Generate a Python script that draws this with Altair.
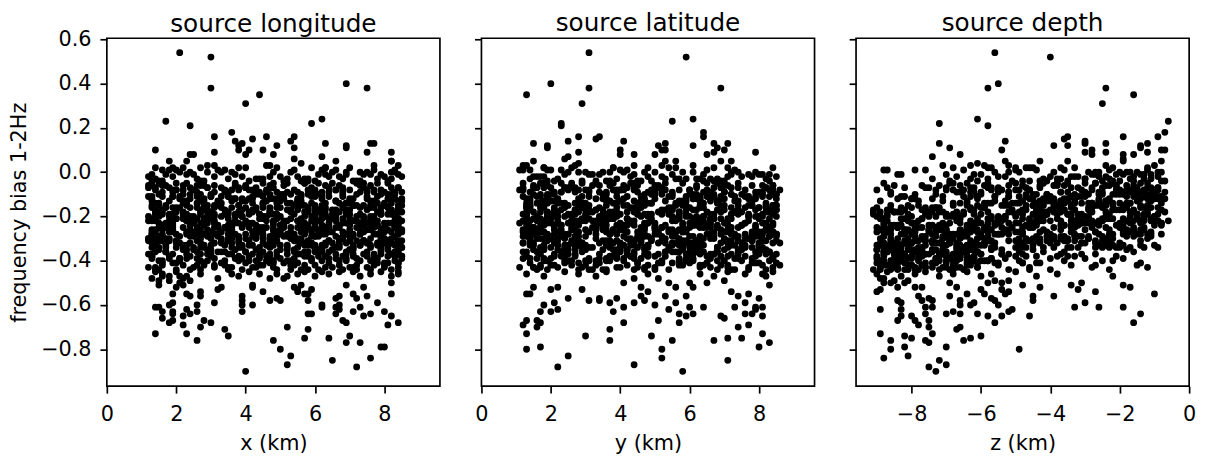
import altair as alt
import pandas as pd

FONT = "DejaVu Sans"
panel_titles = ["source longitude", "source latitude", "source depth"]
x_titles = ["x (km)", "y (km)", "z (km)"]
y_title = "frequency bias 1-2Hz"
y_ticks = [-0.8, -0.6, -0.4, -0.2, 0.0, 0.2, 0.4, 0.6]
h_ticks = [0, 2, 4, 6, 8]
z_ticks = [-8, -6, -4, -2, 0]

# events seen in all three panels: (bias in 1/100, x, y, z in 1/10 km)
core_events = [
(54,21,31,-56),(52,30,59,-40),(40,69,20,-55),(38,30,31,-58),(38,75,69,-24),(35,44,13,-16),(31,40,29,-25),(24,62,61,-61),(23,17,55,-6),(22,59,23,-72),
(21,24,23,-58),(18,36,64,-7),(16,46,34,-9),(16,54,64,-19),(16,31,28,-35),(15,42,33,-36),(14,53,25,-53),(14,37,41,-30),(13,39,67,-24),(13,63,15,-12),
(13,76,53,-72),(13,77,71,-30),(12,69,61,-35),(12,38,51,-14),(12,49,19,-39),(11,69,68,-69),(11,54,19,-14),(10,14,40,-8),(10,38,70,-7),(10,41,52,-54),
(10,45,53,-28),(9,31,28,-24),(9,75,67,-12),(9,82,79,-30),(8,24,50,-28),(8,25,44,-66),(8,40,65,-16),(8,48,40,-19),(7,62,25,-74),(6,54,24,-19),
(5,66,56,-8),(5,82,15,-53),(5,82,69,-35),(5,23,72,-43),(5,18,53,-19),(4,56,28,-61),(3,31,12,-63),(3,47,44,-52),(3,77,52,-59),(2,63,67,-50),
(2,63,18,-68),(2,19,38,-46),(2,27,48,-37),(1,16,19,-23),(0,73,72,-26),
(-2,47,18,-33),(1,18,73,-12),(-4,73,29,-51),(3,29,61,-24),(-1,61,83,-70),(0,83,35,-9),(-3,35,14,-42),(2,14,56,-58),(-4,56,69,-16),(-1,69,44,-83),
(0,24,50,-27),(-3,52,22,-63),(-1,79,77,-19),(2,40,38,-45),(-4,13,64,-8),(1,66,12,-36),(-2,31,85,-55),(-4,58,46,-22),(3,84,27,-71),(-3,45,59,-30),
(-1,37,31,-14),(-4,71,67,-48),(1,20,42,-87),(-2,55,15,-26),(0,82,79,-39),(-3,26,53,-11),(-1,63,24,-60),(2,49,71,-33),(-4,15,36,-20),(0,75,58,-52),
(-3,43,82,-17),(1,77,20,-44),(-2,12,48,-67),(-4,60,33,-7),(0,33,74,-29),(-1,84,55,-13),(2,22,26,-57),(-3,68,63,-38),(-2,39,17,-24),(1,54,40,-76),
(-4,28,70,-46),(0,65,28,-18),(-2,80,52,-32),(3,46,13,-10),(-1,17,81,-62),(-3,57,39,-23),(1,34,65,-88),(-4,72,21,-41),(0,21,47,-15),(-2,50,75,-53),
(-1,76,32,-28),(-3,14,57,-74),(2,59,84,-12),(-4,41,19,-35),(0,29,61,-49),(-2,67,43,-9),(1,83,14,-65),(-1,25,72,-21),(-4,51,37,-43),(-3,78,66,-30),
(0,36,25,-56),(-2,19,78,-16),(-4,81,49,-25),(1,62,11,-79),(-3,44,68,-37),(-1,13,34,-11),(2,70,54,-47),(-4,27,83,-61),(0,53,41,-20),(-2,85,16,-34),
(-3,58,62,-13),(1,32,23,-50),(-1,74,80,-27),(-4,16,45,-69),(0,48,30,-8),(-2,64,71,-40),(2,38,18,-22),(-3,82,56,-58),(-1,23,64,-84),(0,69,37,-17),
(-9,52,27,-35),(-13,18,66,-71),(-6,76,41,-18),(-11,33,83,-52),(-7,64,15,-9),(-14,45,58,-64),(-5,23,33,-27),(-10,81,72,-44),(-12,39,22,-84),(-8,58,49,-13),
(-12,71,63,-40),(-6,27,19,-23),(-9,49,81,-67),(-14,14,38,-31),(-10,62,55,-11),(-5,37,26,-58),(-13,84,73,-78),(-8,20,44,-46),(-11,56,12,-16),(-7,43,67,-62),
(-10,30,52,-29),(-14,67,29,-8),(-8,46,76,-54),(-5,78,17,-88),(-12,21,61,-36),(-9,59,36,-19),(-6,13,84,-72),(-13,50,47,-41),(-7,82,24,-25),(-11,35,69,-61),
(-7,74,42,-12),(-11,16,59,-49),(-14,53,13,-33),(-6,40,78,-66),(-9,85,31,-21),(-12,28,50,-80),(-5,61,65,-38),(-10,47,20,-15),(-8,19,86,-57),(-13,70,37,-26),
(-13,36,74,-48),(-8,79,25,-10),(-5,15,53,-69),(-11,60,39,-32),(-14,42,82,-17),(-7,24,16,-55),(-10,68,61,-86),(-6,51,45,-24),(-12,83,28,-42),(-9,31,70,-7),
(-6,63,34,-59),(-10,22,75,-20),(-13,77,18,-37),(-8,41,57,-73),(-5,57,43,-14),(-11,13,66,-47),(-14,69,24,-28),(-9,35,80,-63),(-7,84,51,-34),(-12,48,14,-11),
(-11,26,46,-82),(-5,72,68,-30),(-9,44,21,-16),(-14,80,57,-51),(-6,17,32,-39),(-12,55,85,-9),(-8,66,40,-68),(-13,32,63,-23),(-10,50,17,-45),(-7,14,74,-76),
(-14,59,22,-18),(-9,16,48,-60),(-6,47,71,-43),(-12,75,35,-26),(-7,29,12,-87),(-10,83,62,-12),(-13,40,78,-53),(-5,65,29,-35),(-11,21,54,-65),(-8,54,84,-20),
(-8,38,60,-31),(-12,81,13,-74),(-5,20,38,-22),(-10,58,72,-10),(-14,32,27,-57),(-6,73,50,-48),(-11,45,19,-83),(-7,12,82,-15),(-13,66,44,-39),(-9,26,64,-62),
(-5,45,33,-50),(-9,68,79,-17),(-14,23,56,-29),(-7,84,20,-70),(-12,51,41,-8),(-10,15,67,-41),(-6,37,15,-77),(-13,76,53,-24),(-8,60,28,-55),(-11,30,81,-34),
(-10,79,47,-19),(-7,40,25,-63),(-12,13,70,-46),(-5,57,58,-12),(-13,27,36,-89),(-8,70,83,-28),(-14,49,16,-37),(-6,22,62,-52),(-11,64,42,-71),(-9,35,23,-14),
(-13,55,68,-43),(-6,31,37,-21),(-9,75,14,-66),(-11,19,79,-9),(-7,47,52,-32),(-14,82,30,-59),(-8,25,65,-15),(-12,62,19,-80),(-5,16,44,-38),(-10,72,85,-25),
(-7,18,26,-58),(-11,50,63,-13),(-14,70,45,-44),(-8,34,11,-70),(-5,81,74,-27),(-12,42,33,-61),(-9,64,55,-19),(-6,28,81,-85),(-13,13,20,-33),(-10,56,49,-47),
(-12,36,77,-10),(-8,77,39,-49),(-5,52,18,-64),(-13,22,59,-24),(-10,43,84,-73),(-6,67,26,-36),(-14,15,46,-17),(-9,80,66,-55),(-11,59,31,-40),(-7,29,72,-82),
(-9,83,52,-26),(-13,46,14,-56),(-6,12,70,-38),(-10,61,35,-79),(-7,38,82,-11),(-12,24,47,-45),(-5,74,23,-68),(-14,56,64,-22),(-8,42,40,-90),(-11,78,17,-31),
(-6,26,84,-16),(-10,53,21,-60),(-13,85,57,-35),(-7,33,44,-75),(-11,68,76,-18),(-5,48,12,-42),(-9,19,39,-86),(-14,63,68,-28),(-8,75,30,-50),(-12,41,61,-7),
(-19,44,72,-81),(-15,71,28,-37),(-23,17,50,-14),(-17,58,85,-62),(-21,30,15,-48),(-24,83,41,-26),(-16,49,63,-90),(-20,25,34,-55),(-22,66,77,-9),(-18,38,22,-71),
(-22,76,55,-33),(-18,14,31,-67),(-15,54,69,-19),(-24,36,18,-84),(-20,62,80,-42),(-16,21,46,-11),(-23,80,26,-58),(-17,43,61,-76),(-21,28,38,-24),(-19,69,13,-50),
(-16,33,44,-73),(-21,84,67,-29),(-24,19,23,-46),(-18,60,52,-7),(-15,45,82,-64),(-22,12,36,-88),(-19,73,19,-35),(-17,27,74,-20),(-23,51,48,-79),(-20,39,60,-53),
(-20,57,16,-15),(-17,82,59,-82),(-22,40,33,-40),(-15,23,78,-68),(-19,65,45,-23),(-23,31,64,-56),(-16,77,29,-12),(-24,48,84,-74),(-18,16,52,-44),(-21,70,20,-89),
(-23,64,76,-31),(-19,22,40,-60),(-16,79,14,-18),(-21,45,57,-77),(-18,35,83,-49),(-15,13,25,-86),(-24,56,66,-21),(-20,83,37,-70),(-17,29,55,-8),(-22,52,12,-43),
(-18,78,42,-65),(-22,37,71,-25),(-15,60,18,-52),(-20,15,62,-80),(-24,70,28,-37),(-16,43,80,-14),(-21,26,49,-61),(-17,55,23,-91),(-23,81,58,-30),(-19,34,35,-45),
(-15,28,58,-39),(-24,62,13,-72),(-17,47,85,-16),(-21,74,31,-54),(-19,19,47,-87),(-23,40,70,-27),(-16,84,39,-63),(-20,33,19,-10),(-18,67,65,-41),(-22,14,27,-78),
(-21,53,67,-58),(-16,17,24,-34),(-19,81,54,-13),(-23,29,81,-69),(-15,68,36,-22),(-18,42,15,-83),(-24,24,75,-47),(-22,59,43,-6),(-17,75,62,-36),(-20,46,30,-66),
(-24,35,50,-20),(-20,72,79,-75),(-17,20,33,-43),(-22,48,61,-28),(-16,63,17,-59),(-19,14,84,-35),(-15,80,46,-81),(-23,57,22,-17),(-18,27,69,-52),(-21,84,38,-11),
(-17,66,21,-86),(-21,13,63,-32),(-24,51,39,-64),(-18,82,73,-24),(-15,38,56,-45),(-23,73,11,-8),(-20,22,48,-73),(-16,58,82,-38),(-22,31,26,-55),(-19,47,67,-15),
(-20,18,77,-50),(-16,50,34,-19),(-23,69,60,-88),(-19,37,20,-41),(-15,84,70,-26),(-22,25,44,-67),(-18,61,13,-12),(-24,43,53,-79),(-17,14,83,-33),(-21,76,29,-57),
(-23,42,19,-29),(-19,79,48,-62),(-16,26,72,-9),(-21,64,37,-46),(-24,16,65,-83),(-17,53,27,-21),(-20,37,85,-68),(-15,71,41,-38),(-22,85,16,-14),(-18,30,57,-74),
(-18,57,38,-91),(-24,28,68,-36),(-15,74,24,-54),(-20,45,55,-17),(-22,19,14,-63),(-16,68,80,-28),(-23,36,43,-8),(-17,82,30,-47),(-21,49,71,-77),(-19,23,59,-31),
(-16,81,64,-43),(-22,46,22,-14),(-18,20,51,-85),(-15,55,78,-24),(-24,73,33,-56),(-19,31,12,-70),(-21,62,66,-19),(-17,39,45,-39),(-23,15,82,-61),(-20,77,26,-10),
(-21,24,35,-66),(-17,70,70,-22),(-23,48,17,-49),(-16,13,55,-80),(-20,59,81,-13),(-24,84,42,-34),(-18,41,28,-58),(-22,66,64,-87),(-15,32,14,-27),(-19,54,49,-44),
(-15,62,84,-18),(-20,29,46,-57),(-24,78,21,-75),(-17,16,68,-40),(-22,51,32,-11),(-19,83,57,-65),(-16,36,13,-29),(-23,60,76,-50),(-18,22,39,-89),(-21,44,62,-22),
(-22,71,49,-37),(-18,47,75,-16),(-16,19,29,-60),(-24,58,58,-44),(-21,35,17,-82),(-15,80,63,-25),(-19,63,36,-9),(-23,27,84,-71),(-20,12,24,-53),(-17,52,44,-33),
(-19,38,66,-76),(-23,82,27,-20),(-17,61,52,-48),(-21,20,80,-13),(-16,45,18,-59),(-24,67,47,-36),(-18,29,73,-85),(-22,55,34,-25),(-20,76,59,-69),(-15,15,42,-42),
(-24,50,23,-10),(-16,73,60,-72),(-20,31,37,-30),(-18,85,82,-51),(-23,18,48,-66),(-17,42,14,-19),(-21,68,69,-88),(-15,57,31,-34),(-22,23,56,-46),(-19,79,77,-15),
(-17,34,53,-63),(-21,56,16,-23),(-15,17,74,-45),(-23,75,40,-80),(-19,48,25,-12),(-22,83,63,-54),(-16,24,43,-38),(-24,41,79,-70),(-18,69,19,-28),(-20,60,57,-90),
(-29,61,45,-68),(-25,26,79,-33),(-33,78,22,-85),(-27,43,58,-17),(-31,15,36,-74),(-34,55,71,-47),(-26,84,16,-62),(-30,35,63,-24),(-32,69,29,-80),(-28,20,50,-40),
(-32,48,84,-56),(-28,73,33,-12),(-25,17,60,-77),(-31,58,19,-36),(-26,36,46,-89),(-34,81,68,-21),(-29,24,27,-64),(-27,65,81,-43),(-33,42,41,-70),(-30,13,14,-29),
(-26,70,57,-82),(-31,33,21,-50),(-34,14,75,-65),(-28,52,39,-8),(-25,83,64,-73),(-32,27,12,-38),(-29,47,83,-60),(-33,62,48,-26),(-27,19,31,-87),(-30,76,66,-45),
(-30,40,24,-71),(-27,57,70,-19),(-32,82,44,-59),(-25,31,15,-84),(-29,68,55,-31),(-33,22,80,-67),(-26,50,35,-13),(-34,71,61,-78),(-28,13,23,-52),(-31,85,74,-35),
(-33,59,30,-61),(-29,16,67,-88),(-26,45,13,-42),(-31,74,52,-23),(-28,28,85,-69),(-25,64,40,-16),(-34,38,18,-83),(-30,80,77,-49),(-27,53,28,-63),(-32,21,56,-30),
(-28,35,72,-15),(-32,75,38,-72),(-25,51,65,-54),(-30,18,20,-86),(-34,66,47,-34),(-26,29,82,-66),(-31,84,26,-41),(-27,44,59,-79),(-33,14,43,-20),(-29,60,14,-58),
(-25,72,33,-90),(-34,25,54,-27),(-27,61,17,-75),(-31,41,78,-46),(-29,83,61,-11),(-33,50,25,-64),(-26,16,69,-37),(-30,67,42,-81),(-28,37,84,-55),(-32,56,12,-69),
(-31,20,63,-44),(-26,79,21,-61),(-29,32,48,-25),(-33,67,76,-86),(-25,46,35,-39),(-28,84,15,-74),(-34,52,68,-17),(-32,13,29,-62),(-27,74,83,-48),(-30,27,53,-77),
(-34,44,37,-67),(-30,82,64,-22),(-27,23,13,-53),(-32,63,51,-85),(-26,36,82,-30),(-29,71,28,-70),(-25,15,74,-45),(-33,58,44,-10),(-28,48,19,-82),(-31,79,59,-57),
(-27,85,46,-34),(-31,49,22,-76),(-34,28,60,-63),(-28,63,79,-26),(-25,39,17,-84),(-33,76,55,-49),(-30,12,33,-68),(-26,57,71,-19),(-32,24,40,-59),(-29,70,12,-88),
(-30,55,81,-40),(-26,19,30,-73),(-33,81,57,-24),(-29,42,14,-65),(-25,66,66,-51),(-32,31,46,-89),(-28,77,23,-14),(-34,13,78,-56),(-27,50,38,-80),(-31,35,62,-33),
(-33,73,18,-71),(-29,38,73,-18),(-26,62,41,-87),(-32,17,61,-43),(-28,54,24,-60),(-25,80,50,-28),(-31,26,85,-76),(-34,47,32,-9),(-27,68,67,-66),(-30,14,45,-39),
(-26,43,27,-53),(-32,78,69,-82),(-29,21,52,-36),(-25,58,14,-64),(-33,34,80,-22),(-28,69,37,-74),(-31,12,58,-47),(-27,82,22,-90),(-34,60,63,-32),(-30,30,43,-61),
(-31,64,35,-27),(-27,30,56,-70),(-34,85,20,-50),(-30,47,77,-84),(-26,24,47,-16),(-33,71,62,-59),(-25,41,26,-78),(-29,15,83,-41),(-32,57,15,-67),(-28,78,51,-23),
(-28,16,66,-86),(-33,52,40,-45),(-25,77,83,-62),(-30,33,18,-12),(-27,59,54,-73),(-34,20,29,-35),(-31,72,72,-81),(-26,48,36,-57),(-29,83,13,-29),(-32,38,60,-69),
(-25,34,21,-48),(-29,66,60,-79),(-32,45,86,-20),(-27,13,42,-65),(-34,79,17,-88),(-30,56,70,-37),(-26,27,33,-72),(-33,63,48,-14),(-28,40,81,-55),(-31,74,28,-63),
(-32,82,53,-31),(-28,27,16,-68),(-25,53,72,-84),(-31,18,39,-25),(-27,70,80,-58),(-34,39,24,-77),(-29,60,47,-44),(-33,23,64,-83),(-26,75,12,-18),(-30,45,57,-66),
(-29,29,79,-60),(-34,67,31,-23),(-26,85,59,-75),(-32,36,21,-40),(-25,22,68,-86),(-31,55,44,-52),(-27,80,18,-11),(-30,16,76,-71),(-33,48,36,-89),(-28,62,65,-33),
(-34,17,45,-64),(-27,49,84,-27),(-31,81,27,-79),(-25,60,63,-46),(-30,38,14,-61),(-26,13,50,-82),(-33,73,73,-19),(-28,31,37,-56),(-32,65,55,-73),(-29,43,20,-37),
(-26,59,38,-70),(-30,79,67,-43),(-33,30,15,-62),(-27,18,58,-87),(-34,76,81,-25),(-29,51,30,-66),(-25,36,46,-13),(-32,84,71,-80),(-28,23,25,-48),(-31,67,62,-58),
(-38,57,39,-78),(-42,22,71,-55),(-35,79,18,-86),(-40,41,57,-64),(-44,14,32,-23),(-37,66,80,-71),(-41,33,24,-90),(-36,84,62,-42),(-43,48,45,-67),(-39,26,14,-80),
(-43,70,66,-61),(-36,17,29,-83),(-40,52,83,-36),(-35,30,47,-74),(-42,77,20,-15),(-38,44,60,-88),(-44,61,36,-69),(-37,23,74,-52),(-41,84,51,-76),(-39,38,16,-63),
(-36,45,53,-87),(-41,80,14,-48),(-44,27,68,-72),(-38,63,27,-33),(-35,15,82,-66),(-42,54,42,-81),(-39,72,61,-57),(-43,36,22,-89),(-37,19,48,-27),(-40,67,75,-70),
(-40,29,36,-62),(-37,74,59,-85),(-43,12,17,-46),(-39,50,78,-73),(-35,62,40,-18),(-41,40,65,-82),(-36,83,23,-65),(-44,24,54,-91),(-38,68,84,-38),(-42,34,30,-77),
(-44,56,72,-68),(-39,18,44,-40),(-36,69,12,-79),(-42,28,57,-64),(-37,82,34,-88),(-41,47,79,-55),(-35,37,25,-71),(-43,75,63,-12),(-38,13,38,-84),(-40,59,19,-60),
(-37,42,85,-75),(-43,65,47,-28),(-38,24,21,-82),(-35,81,70,-63),(-40,16,33,-49),(-44,49,16,-86),(-36,58,56,-66),(-42,72,81,-34),(-39,31,41,-78),(-41,84,28,-61),
(-41,20,52,-70),(-35,52,15,-90),(-39,78,73,-53),(-44,39,35,-65),(-37,12,61,-37),(-42,60,26,-80),(-38,85,48,-21),(-36,32,82,-74),(-43,71,39,-84),(-40,46,68,-58),
(-39,66,31,-67),(-44,35,77,-46),(-36,14,44,-83),(-40,83,18,-72),(-42,44,63,-88),(-37,56,42,-31),(-43,25,84,-76),(-35,70,27,-62),(-41,16,55,-14),(-38,49,71,-80),
(-42,80,69,-85),(-38,30,23,-64),(-44,68,50,-78),(-35,43,74,-54),(-39,21,36,-90),(-36,75,16,-70),(-41,55,85,-43),(-37,36,47,-82),(-43,14,29,-66),(-40,62,59,-25),
(-35,25,62,-77),(-40,73,41,-86),(-37,47,17,-60),(-43,84,77,-71),(-38,18,53,-47),(-44,53,31,-81),(-39,64,66,-19),(-42,31,21,-68),(-36,40,83,-88),(-41,78,45,-56),
(-43,35,15,-79),(-36,64,57,-65),(-41,19,80,-84),(-38,77,37,-50),(-35,50,22,-73),(-40,27,70,-89),(-44,82,44,-40),(-37,13,27,-76),(-42,45,64,-63),(-39,69,12,-30),
(-38,83,76,-70),(-42,16,48,-87),(-35,61,30,-45),(-39,39,84,-62),(-44,72,19,-82),(-41,28,60,-74),(-36,54,40,-16),(-43,43,71,-85),(-37,79,25,-67),(-40,21,52,-59),
(-40,48,24,-83),(-37,29,66,-72),(-43,80,50,-61),(-36,17,13,-88),(-41,64,78,-44),(-35,84,35,-81),(-39,44,59,-69),(-42,26,17,-77),(-44,58,82,-52),(-38,71,43,-35),
(-36,33,74,-64),(-44,76,28,-79),(-39,13,46,-57),(-42,57,86,-86),(-37,69,21,-68),(-40,38,61,-22),(-35,22,38,-84),(-43,63,15,-74),(-38,46,69,-90),(-41,81,34,-48),
(-41,51,45,-73),(-38,85,13,-62),(-44,20,73,-84),(-36,40,55,-36),(-42,67,33,-80),(-35,14,80,-67),(-40,76,26,-88),(-37,55,63,-54),(-43,31,40,-70),(-39,59,18,-81),
(-39,23,84,-66),(-42,53,58,-27),(-35,70,42,-85),(-43,42,11,-76),(-37,84,67,-60),(-40,34,30,-83),(-36,60,79,-71),(-44,15,47,-89),(-38,75,24,-44),(-41,48,65,-64),
(-17,63,27,-44),(-8,22,53,-21),(-31,47,78,-69),(-12,85,36,-12),(-26,35,15,-52),(-21,14,66,-83),(-37,71,44,-76),(-10,51,81,-33),(-28,79,21,-19),(-15,29,59,-61),
(-23,41,34,-27),(-33,17,72,-81),(-7,68,18,-47),(-19,82,52,-70),(-29,25,85,-39),(-13,56,40,-15),(-38,38,24,-64),(-24,74,62,-8),(-11,12,29,-56),(-35,60,75,-86),
(-30,53,49,-23),(-16,20,13,-74),(-9,77,70,-37),(-25,44,32,-88),(-40,15,57,-58),(-20,66,80,-29),(-14,33,23,-50),(-27,84,45,-66),(-34,27,68,-13),(-18,58,17,-42),
(-12,37,63,-79),(-22,72,26,-18),(-36,49,83,-71),(-8,14,41,-9),(-27,63,12,-61),(-17,28,55,-36),(-32,80,34,-84),(-20,45,77,-24),(-39,21,20,-69),(-25,55,50,-46),
(-19,18,38,-91),(-29,70,74,-32),(-11,42,16,-63),(-34,85,58,-20),(-23,31,82,-55),(-7,59,27,-43),(-38,13,65,-80),(-15,76,47,-14),(-26,48,14,-75),(-21,24,72,-38),
(-33,39,29,-62),(-10,82,60,-26),(-24,16,44,-85),(-28,57,85,-11),(-14,69,19,-68),(-36,26,53,-49),(-18,47,37,-17),(-31,74,71,-78),(-9,34,23,-52),(-22,61,66,-34),
(-26,73,55,-70),(-13,23,21,-40),(-35,54,81,-57),(-20,39,39,-87),(-30,12,63,-29),(-16,81,30,-12),(-24,50,75,-63),(-8,66,12,-46),(-37,30,48,-83),(-28,45,69,-22),
(-15,56,85,-53),(-32,20,43,-74),(-22,78,18,-31),(-11,35,67,-8),(-27,64,36,-88),(-40,43,59,-67),(-19,27,26,-48),(-34,71,76,-39),(-6,16,51,-21),(-25,83,15,-59),
(-29,36,63,-16),(-17,62,33,-77),(-38,81,50,-72),(-12,47,79,-35),(-23,19,22,-60),(-31,54,46,-82),(-9,73,70,-25),(-21,29,13,-44),(-35,65,58,-90),(-16,40,84,-13),
(-21,84,42,-55),(-28,32,78,-80),(-14,52,17,-20),(-36,17,64,-61),(-19,70,30,-38),(-25,45,52,-73),(-10,27,85,-11),(-33,60,24,-66),(-24,76,61,-28),(-39,37,39,-85),
(-27,14,71,-49),(-13,66,46,-64),(-31,38,14,-23),(-18,79,57,-84),(-37,52,82,-70),(-22,23,35,-9),(-7,48,62,-57),(-29,83,27,-33),(-16,31,76,-76),(-34,62,48,-42),
(-20,50,21,-67),(-35,29,54,-79),(-11,75,73,-30),(-26,18,38,-14),(-17,58,83,-51),(-30,43,16,-89),(-23,68,66,-45),(-8,36,31,-18),(-39,85,74,-62),(-14,22,49,-36),
(-32,59,80,-27),(-18,15,32,-72),(-25,80,47,-58),(-10,44,19,-41),(-36,34,68,-85),(-21,65,56,-10),(-28,26,25,-64),(-15,71,85,-47),(-40,53,37,-78),(-24,39,61,-32),
(-13,28,58,-26),(-26,61,23,-86),(-37,77,72,-54),(-19,41,45,-15),(-31,16,81,-69),(-9,55,34,-37),(-22,84,63,-81),(-34,36,18,-48),(-17,69,79,-22),(-29,49,41,-73),
(-24,64,36,-19),(-11,19,77,-61),(-33,46,28,-87),(-20,74,64,-43),(-27,33,51,-66),(-15,85,13,-28),(-38,58,84,-77),(-23,25,47,-52),(-30,68,22,-35),(-7,40,69,-9),
(-16,47,54,-83),(-30,80,18,-47),(-21,22,83,-25),(-35,65,39,-71),(-12,37,62,-14),(-26,57,26,-59),(-18,14,44,-39),(-32,75,75,-88),(-25,32,15,-64),(-9,62,50,-30),
(-37,44,67,-82),(-22,77,30,-13),(-14,26,49,-49),(-29,59,80,-76),(-19,35,20,-34),(-33,83,58,-60),(-10,51,36,-22),(-24,17,71,-86),(-40,69,25,-68),(-27,42,84,-41),
(-28,71,47,-54),(-15,31,14,-18),(-36,57,74,-78),(-23,84,33,-31),(-8,20,60,-65),(-31,48,82,-44),(-20,63,22,-89),(-13,39,68,-11),(-26,76,41,-71),(-34,15,27,-57),
(-18,53,73,-37),(-33,28,37,-85),(-25,67,17,-24),(-11,82,55,-52),(-38,41,79,-66),(-22,13,29,-16),(-16,60,63,-73),(-30,36,46,-40),(-7,74,24,-28),(-28,50,85,-83),
(-23,38,20,-62),(-12,70,66,-23),(-35,23,42,-74),(-27,56,78,-50),(-17,84,31,-87),(-39,47,57,-69),(-20,29,13,-34),(-31,64,70,-14),(-14,45,39,-58),(-25,19,52,-79),
(-32,67,26,-31),(-19,44,81,-68),(-26,14,54,-88),(-10,59,15,-21),(-36,79,68,-61),(-24,32,35,-45),(-15,72,77,-12),(-29,52,23,-77),(-21,20,61,-53),(-38,61,43,-84),
(-14,78,48,-66),(-27,25,72,-27),(-22,55,28,-42),(-33,41,62,-90),(-8,68,38,-17),(-30,17,17,-59),(-18,84,83,-75),(-37,35,51,-48),(-25,63,33,-20),(-12,49,69,-39),
(-29,43,56,-71),(-16,76,21,-25),(-34,22,80,-64),(-21,60,42,-10),(-11,30,65,-56),(-26,81,16,-81),(-39,54,34,-73),(-19,16,74,-32),(-31,70,49,-86),(-23,37,25,-44),
(-20,24,64,-15),(-35,71,24,-80),(-9,46,45,-52),(-28,13,76,-67),(-17,65,35,-29),(-32,33,59,-48),(-24,78,82,-88),(-13,55,19,-37),(-37,27,67,-70),(-26,48,40,-23),
(-31,82,37,-58),(-15,38,84,-78),(-22,18,18,-26),(-36,62,60,-87),(-19,49,27,-41),(-28,73,73,-65),(-10,24,50,-13),(-33,57,14,-76),(-25,34,68,-34),(-40,77,31,-62),
]

# low-bias points read panel by panel: (coordinate in 1/10 km, bias in 1/100)
lon_outer = [
(13,-48),(15,-49),(15,-51),(16,-47),(18,-47),(18,-49),(21,-47),(22,-48),(23,-47),(24,-49),
(21,-50),(22,-51),(20,-52),(19,-55),(23,-55),(24,-56),(19,-59),(18,-60),(27,-54),(27,-56),
(26,-60),(26,-63),(24,-64),(23,-62),(22,-65),(22,-69),(19,-67),(18,-68),(19,-64),(19,-63),
(16,-66),(16,-63),(15,-61),(14,-61),(14,-73),(23,-73),(26,-76),(27,-70),(28,-67),(30,-68),
(31,-59),(32,-48),(33,-52),(32,-53),(34,-71),(35,-74),(36,-46),(38,-47),(39,-56),(39,-58),
(39,-63),(39,-60),(42,-51),(42,-52),(42,-60),(45,-54),(40,-90),(47,-48),(47,-58),(49,-57),
(50,-58),(52,-70),(48,-76),(50,-80),(53,-83),(52,-87),(51,-48),(54,-52),(55,-53),(56,-51),
(55,-54),(58,-55),(58,-58),(58,-64),(59,-64),(57,-75),(58,-71),(59,-53),(57,-55),(62,-61),
(62,-60),(64,-75),(65,-85),(66,-57),(66,-64),(66,-61),(67,-62),(67,-60),(68,-67),(69,-68),
(69,-77),(70,-74),(67,-56),(69,-51),(71,-55),(72,-57),(73,-61),(74,-65),(71,-63),(72,-88),
(73,-77),(76,-84),(76,-64),(80,-63),(79,-79),(80,-79),(81,-69),(82,-65),(84,-68),(78,-59),
(82,-55),(82,-50),(84,-46),(75,-56),(74,-52),(55,-46),(57,-45),(60,-47),(64,-46),(67,-45),
(71,-45),(73,-47),(76,-46),(79,-45),(82,-47),(14,-45),(16,-46),(20,-45),(27,-46),(41,-45),
(44,-46),(49,-46),(52,-47),(62,-45),(84,-45),
]
lat_outer = [
(58,-90),(22,-88),(25,-83),(44,-87),(52,-84),(71,-85),(13,-80),(17,-79),(30,-74),(37,-76),
(37,-71),(49,-74),(52,-80),(55,-76),(67,-76),(71,-75),(75,-75),(80,-79),(83,-77),(81,-73),
(77,-69),(74,-70),(13,-73),(12,-69),(13,-67),(16,-70),(17,-68),(16,-67),(41,-68),(51,-67),
(57,-68),(69,-65),(70,-66),(73,-61),(76,-64),(78,-64),(79,-62),(81,-65),(81,-61),(79,-61),
(17,-63),(18,-60),(20,-63),(22,-62),(21,-59),(31,-58),(34,-58),(37,-59),(38,-63),(41,-61),
(44,-59),(46,-56),(50,-60),(54,-62),(56,-59),(57,-64),(59,-65),(60,-61),(61,-64),(64,-61),
(41,-50),(44,-48),(48,-54),(51,-48),(54,-50),(56,-52),(59,-56),(61,-52),(60,-50),(13,-55),
(14,-55),(15,-52),(20,-53),(22,-52),(25,-57),(29,-53),(34,-57),(39,-57),(46,-52),(47,-58),
(53,-56),(65,-50),(70,-49),(72,-54),(74,-56),(76,-59),(77,-55),(80,-57),(83,-51),(82,-47),
(81,-46),(13,-46),(18,-47),(24,-45),(28,-46),(33,-47),(36,-45),(48,-46),(63,-46),(67,-47),
(71,-45),(76,-46),(84,-45),
]
dep_outer = [
(-73,-90),(-75,-88),(-72,-85),(-70,-87),(-88,-84),(-81,-83),(-86,-80),(-86,-76),(-82,-79),(-82,-74),
(-89,-73),(-80,-75),(-76,-76),(-75,-77),(-74,-73),(-70,-79),(-65,-76),(-63,-75),(-60,-74),(-67,-71),
(-66,-70),(-49,-80),(-84,-67),(-83,-65),(-80,-65),(-79,-67),(-78,-69),(-75,-70),(-75,-67),(-76,-64),
(-89,-62),(-83,-62),(-83,-59),(-84,-58),(-70,-64),(-68,-63),(-66,-64),(-63,-60),(-61,-64),(-58,-65),
(-56,-68),(-54,-65),(-52,-63),(-51,-62),(-46,-65),(-45,-58),(-45,-56),(-39,-56),(-33,-61),(-30,-59),
(-26,-61),(-19,-61),(-16,-68),(-14,-64),(-10,-55),(-19,-51),(-17,-52),(-27,-54),(-32,-53),(-34,-51),
(-31,-50),(-48,-51),(-43,-52),(-89,-48),(-89,-53),(-90,-54),(-88,-50),(-88,-48),(-86,-50),(-85,-49),
(-84,-52),(-82,-50),(-81,-49),(-79,-52),(-77,-52),(-78,-56),(-77,-58),(-75,-57),(-74,-58),(-76,-61),
(-74,-61),(-69,-50),(-69,-56),(-67,-52),(-66,-58),(-66,-60),(-64,-55),(-62,-59),(-60,-53),(-59,-55),
(-58,-50),(-57,-57),(-56,-58),(-55,-60),(-54,-53),(-53,-55),(-52,-54),(-56,-49),(-52,-49),(-54,-50),
(-90,-46),(-87,-45),(-83,-47),(-79,-46),(-76,-45),(-72,-47),(-68,-46),(-64,-45),(-60,-47),(-57,-46),
(-50,-45),(-44,-47),(-38,-46),(-22,-47),
]

core = pd.DataFrame(core_events, columns=["b", "x", "y", "z"])


def panel_frame(coord, outer):
    extra = pd.DataFrame(outer, columns=["c", "b"])
    a = pd.DataFrame({"c": core[coord] / 10.0, "b": core["b"] / 100.0})
    o = pd.DataFrame({"c": extra["c"] / 10.0, "b": extra["b"] / 100.0})
    return pd.concat([a, o], ignore_index=True)


Y_DOMAIN = [-0.967, 0.605]


def make_panel(df, title, xlabel, xdomain, xticks, first):
    if first:
        yaxis = alt.Axis(values=y_ticks, format=".1f", title=y_title)
        toff = -8.5  # the top tick label already lifts this panel's title
    else:
        yaxis = alt.Axis(values=y_ticks, labels=False, title=None)
        toff = 2
    return (
        alt.Chart(
            df,
            title=alt.TitleParams(
                title, fontSize=25, font=FONT, fontWeight="normal", color="black",
                anchor="middle", frame="group", baseline="top", offset=toff,
            ),
        )
        .mark_circle(size=48, color="black", opacity=1)
        .encode(
            x=alt.X("c:Q", scale=alt.Scale(domain=xdomain, nice=False, zero=False),
                    axis=alt.Axis(values=xticks, format="d", title=xlabel)),
            y=alt.Y("b:Q", scale=alt.Scale(domain=Y_DOMAIN, nice=False, zero=False),
                    axis=yaxis),
        )
        .properties(width=337, height=352)
    )


p1 = make_panel(panel_frame("x", lon_outer), panel_titles[0], x_titles[0], [0, 9.6], h_ticks, True)
p2 = make_panel(panel_frame("y", lat_outer), panel_titles[1], x_titles[1], [0, 9.6], h_ticks, False)
p3 = make_panel(panel_frame("z", dep_outer), panel_titles[2], x_titles[2], [-9.6, 0], z_ticks, False)

chart = (
    alt.hconcat(p1, p2, p3, spacing=32)
    .properties(padding={"left": 0, "top": 0, "right": 4, "bottom": 0})
    .configure_view(stroke="black", strokeWidth=1.7)
    .configure_axis(
        domain=False, grid=False, tickColor="black", tickWidth=1.7, tickSize=7,
        labelFont=FONT, labelFontSize=21, labelColor="black",
        labelFlush=False, labelOverlap=False,
        titleFont=FONT, titleFontSize=21, titleFontWeight="normal", titleColor="black",
    )
    .configure_axisX(labelPadding=11, titlePadding=8)
    .configure_axisY(labelPadding=9, titlePadding=11)
)

chart.save("out.html", embed_options={"renderer": "svg", "actions": False})
